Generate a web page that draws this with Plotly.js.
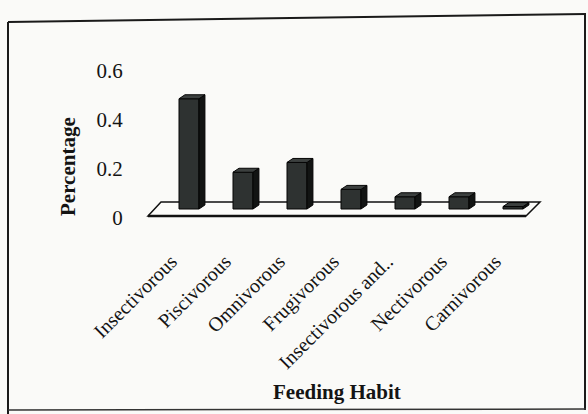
<!DOCTYPE html>
<html>
<head>
<meta charset="utf-8">
<script src="https://cdn.plot.ly/plotly-3.0.1.min.js"></script>
<style>html,body{margin:0;padding:0;background:#fafaf8;}#chart{width:588px;height:414px;}</style>
</head>
<body>
<div id="chart"></div>
<script>
// ---- data ----
const categories = ['Insectivorous','Piscivorous','Omnivorous','Frugivorous','Insectivorous and..','Nectivorous','Carnivorous'];
const values = [0.45, 0.15, 0.19, 0.08, 0.05, 0.05, 0.01];
const yTickVals = [0, 0.2, 0.4, 0.6];
const yTickText = ['0', '0.2', '0.4', '0.6'];
const xTitle = 'Feeding Habit';
const yTitle = 'Percentage';

// ---- geometry (pixels) ----
const W = 588, H = 414;
const L = 162, R = 540, T = 64, B = 222;
const zeroPx = 209;        // where bar bases sit
const labelZeroPx = 218;   // where the "0" tick sits (front of floor)
const pxPerUnit = 245;
const px2x = p => (p - L) / (R - L);
const px2y = p => (B - p) / (B - T);

const idx = categories.map((c, i) => i);
const barW = 0.37, dX = 0.11, dY = 4 / pxPerUnit;

// side and top faces of pseudo-3D bars, built from values
const sideX = [], sideY = [], topX = [], topY = [];
values.forEach((v, i) => {
  const xr = i + barW / 2, xl = i - barW / 2;
  sideX.push(xr, xr + dX, xr + dX, xr, xr, null);
  sideY.push(0, dY, v + dY, v, 0, null);
  topX.push(xl, xl + dX, xr + dX, xr, xl, null);
  topY.push(v, v + dY, v + dY, v, v, null);
});

const font = 'Liberation Serif, Times New Roman, serif';
const ink = '#141414';

const traces = [
  {type: 'bar', x: idx, y: values, width: barW, xaxis: 'x', yaxis: 'y',
   marker: {color: '#2e3231', line: {color: '#050505', width: 1}}, hoverinfo: 'skip'},
  {type: 'scatter', x: sideX, y: sideY, mode: 'lines', fill: 'toself', fillcolor: '#121413',
   line: {color: '#050505', width: 1}, xaxis: 'x', yaxis: 'y', hoverinfo: 'skip'},
  {type: 'scatter', x: topX, y: topY, mode: 'lines', fill: 'toself', fillcolor: '#3c403f',
   line: {color: '#050505', width: 1}, xaxis: 'x', yaxis: 'y', hoverinfo: 'skip'},
  {type: 'scatter', x: idx, y: values, mode: 'markers', marker: {opacity: 0},
   xaxis: 'x2', yaxis: 'y2', hoverinfo: 'skip'}
];

// floor parallelogram
const fl = [[148, 216], [161, 202], [540, 202], [526, 216]];
const floorPath = 'M ' + fl.map(p => px2x(p[0]) + ',' + px2y(p[1])).join(' L ') + ' Z';

const layout = {
  width: W, height: H,
  margin: {l: L, r: W - R, t: T, b: H - B},
  paper_bgcolor: '#fafaf8', plot_bgcolor: 'rgba(0,0,0,0)',
  showlegend: false,
  font: {family: font, color: ink, size: 19},
  xaxis: {range: [-0.5, 6.5], showticklabels: false, showgrid: false, zeroline: false, showline: false, fixedrange: true},
  yaxis: {range: [(zeroPx - B) / pxPerUnit, (zeroPx - T) / pxPerUnit], showticklabels: false, showgrid: false,
          zeroline: false, showline: false, fixedrange: true},
  xaxis2: {overlaying: 'x', anchor: 'y2', side: 'bottom', range: [-0.17, 6.83],
           tickmode: 'array', tickvals: idx, ticktext: categories, tickangle: -45,
           ticks: 'outside', ticklen: 19, tickcolor: 'rgba(0,0,0,0)',
           tickfont: {family: font, size: 20, color: ink},
           showgrid: false, zeroline: false, showline: false, fixedrange: true},
  yaxis2: {overlaying: 'y', anchor: 'x2', side: 'left',
           range: [(labelZeroPx - B) / pxPerUnit, (labelZeroPx - T) / pxPerUnit],
           tickmode: 'array', tickvals: yTickVals, ticktext: yTickText,
           ticks: 'outside', ticklen: 34, tickcolor: 'rgba(0,0,0,0)',
           tickfont: {family: font, size: 21, color: ink},
           showgrid: false, zeroline: false, showline: false, fixedrange: true},
  shapes: [
    {type: 'path', xref: 'paper', yref: 'paper', path: floorPath, layer: 'below',
     fillcolor: '#fbfbf9', line: {color: '#111', width: 1.5}},
    {type: 'line', xref: 'paper', yref: 'paper', x0: px2x(fl[0][0]), y0: px2y(fl[0][1]), x1: px2x(fl[3][0]), y1: px2y(fl[3][1]),
     layer: 'below', line: {color: '#111', width: 2.5}},
    {type: 'line', xref: 'paper', yref: 'paper', x0: px2x(8), y0: px2y(22), x1: px2x(8), y1: px2y(414), line: {color: '#1a1a1a', width: 2}},
    {type: 'line', xref: 'paper', yref: 'paper', x0: px2x(8), y0: px2y(22), x1: px2x(586), y1: px2y(14), line: {color: '#1a1a1a', width: 2}},
    {type: 'line', xref: 'paper', yref: 'paper', x0: px2x(585), y0: px2y(14), x1: px2x(585), y1: px2y(410), line: {color: '#1a1a1a', width: 2}},
    {type: 'line', xref: 'paper', yref: 'paper', x0: px2x(8), y0: px2y(410), x1: px2x(586), y1: px2y(409), line: {color: '#333', width: 1.5}}
  ],
  annotations: [
    {text: '<b>' + yTitle + '</b>', xref: 'paper', yref: 'paper', x: px2x(68), y: px2y(167),
     xanchor: 'center', yanchor: 'middle',
     textangle: -90, showarrow: false, font: {family: font, size: 21, color: ink}},
    {text: '<b>' + xTitle + '</b>', xref: 'paper', yref: 'paper', x: px2x(337), y: px2y(392),
     xanchor: 'center', yanchor: 'middle',
     showarrow: false, font: {family: font, size: 21, color: ink}}
  ]
};

Plotly.newPlot('chart', traces, layout, {staticPlot: true, displayModeBar: false});
</script>
</body>
</html>
